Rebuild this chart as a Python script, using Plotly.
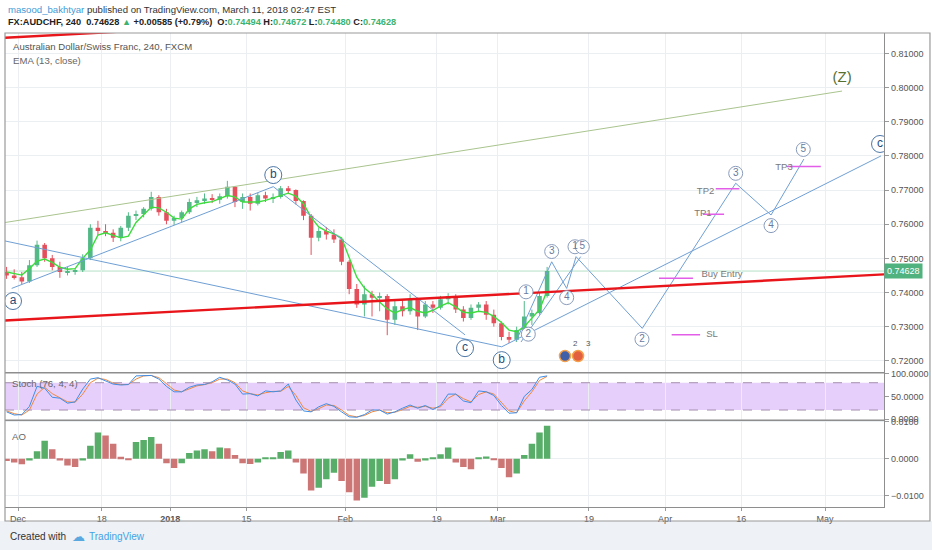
import pandas as pd
import plotly.graph_objects as go

# one bar per trading day (noon)
bar_dates = [d + pd.Timedelta(hours=12)
             for d in pd.bdate_range("2017-11-29", "2018-03-09")
             if d != pd.Timestamp("2017-12-25")]

open_ = [0.7460, 0.7450, 0.7445, 0.7432, 0.7480, 0.7540, 0.7500, 0.7475, 0.7460, 0.7462,
         0.7465, 0.7500, 0.7590, 0.7580, 0.7575, 0.7560, 0.7590, 0.7625, 0.7630, 0.7645,
         0.7680, 0.7635, 0.7610, 0.7618, 0.7635, 0.7665, 0.7670, 0.7675, 0.7672, 0.7682,
         0.7710, 0.7665, 0.7680, 0.7660, 0.7685, 0.7675, 0.7680, 0.7705, 0.7700, 0.7668,
         0.7625, 0.7560, 0.7580, 0.7570, 0.7555, 0.7490, 0.7410, 0.7365, 0.7395, 0.7385,
         0.7390, 0.7320, 0.7360, 0.7345, 0.7380, 0.7330, 0.7365, 0.7355, 0.7380, 0.7390,
         0.7350, 0.7325, 0.7355, 0.7365, 0.7335, 0.7310, 0.7270, 0.7262, 0.7290, 0.7330,
         0.7340, 0.7390]
high = [0.7475, 0.7468, 0.7460, 0.7495, 0.7552, 0.7545, 0.7510, 0.7490, 0.7475, 0.7470,
        0.7512, 0.7600, 0.7610, 0.7600, 0.7585, 0.7595, 0.7635, 0.7640, 0.7650, 0.7695,
        0.7685, 0.7645, 0.7625, 0.7640, 0.7675, 0.7680, 0.7690, 0.7688, 0.7690, 0.7727,
        0.7712, 0.7690, 0.7690, 0.7692, 0.7695, 0.7690, 0.7712, 0.7712, 0.7702, 0.7670,
        0.7630, 0.7590, 0.7592, 0.7585, 0.7560, 0.7495, 0.7425, 0.7420, 0.7405, 0.7400,
        0.7395, 0.7375, 0.7378, 0.7395, 0.7385, 0.7375, 0.7375, 0.7390, 0.7398, 0.7395,
        0.7360, 0.7365, 0.7372, 0.7375, 0.7350, 0.7315, 0.7285, 0.7300, 0.7375, 0.7350,
        0.7400, 0.7475]
low = [0.7440, 0.7438, 0.7425, 0.7428, 0.7475, 0.7490, 0.7465, 0.7443, 0.7450, 0.7452,
       0.7460, 0.7495, 0.7568, 0.7565, 0.7548, 0.7550, 0.7580, 0.7612, 0.7620, 0.7640,
       0.7625, 0.7600, 0.7598, 0.7605, 0.7630, 0.7650, 0.7660, 0.7662, 0.7660, 0.7675,
       0.7650, 0.7645, 0.7640, 0.7655, 0.7665, 0.7662, 0.7675, 0.7688, 0.7658, 0.7612,
       0.7510, 0.7550, 0.7555, 0.7545, 0.7480, 0.7395, 0.7355, 0.7330, 0.7330, 0.7345,
       0.7275, 0.7305, 0.7330, 0.7335, 0.7290, 0.7325, 0.7340, 0.7350, 0.7365, 0.7340,
       0.7315, 0.7320, 0.7345, 0.7320, 0.7300, 0.7260, 0.7252, 0.7255, 0.7285, 0.7305,
       0.7335, 0.7385]
close = [0.7450, 0.7445, 0.7432, 0.7480, 0.7540, 0.7500, 0.7475, 0.7460, 0.7462, 0.7465,
         0.7500, 0.7590, 0.7580, 0.7575, 0.7560, 0.7590, 0.7625, 0.7630, 0.7645, 0.7680,
         0.7635, 0.7610, 0.7618, 0.7635, 0.7665, 0.7670, 0.7675, 0.7672, 0.7682, 0.7710,
         0.7665, 0.7680, 0.7660, 0.7685, 0.7675, 0.7680, 0.7705, 0.7700, 0.7668, 0.7625,
         0.7560, 0.7580, 0.7570, 0.7555, 0.7490, 0.7410, 0.7365, 0.7395, 0.7385, 0.7390,
         0.7320, 0.7360, 0.7345, 0.7380, 0.7330, 0.7365, 0.7355, 0.7380, 0.7390, 0.7350,
         0.7325, 0.7355, 0.7365, 0.7335, 0.7310, 0.7270, 0.7262, 0.7290, 0.7330, 0.7340,
         0.7390, 0.7463]
ema13 = [0.7460, 0.7455, 0.7451, 0.7470, 0.7492, 0.7498, 0.7488, 0.7474, 0.7468, 0.7470,
         0.7500, 0.7525, 0.7568, 0.7575, 0.7568, 0.7560, 0.7565, 0.7605, 0.7628, 0.7650,
         0.7648, 0.7635, 0.7618, 0.7615, 0.7645, 0.7658, 0.7663, 0.7666, 0.7675, 0.7684,
         0.7680, 0.7665, 0.7665, 0.7665, 0.7670, 0.7677, 0.7686, 0.7691, 0.7682, 0.7660,
         0.7620, 0.7592, 0.7580, 0.7572, 0.7560, 0.7500, 0.7445, 0.7413, 0.7395, 0.7372,
         0.7352, 0.7340, 0.7350, 0.7356, 0.7345, 0.7340, 0.7348, 0.7360, 0.7370, 0.7358,
         0.7342, 0.7340, 0.7345, 0.7342, 0.7330, 0.7312, 0.7290, 0.7285, 0.7300, 0.7325,
         0.7350, 0.7405]
stoch_k = [16, 9, 10, 28, 72, 68, 48, 46, 35, 38, 66, 88, 91, 84, 77, 75, 76, 95, 96, 96,
           88, 72, 60, 60, 70, 75, 76, 82, 92, 86, 77, 55, 56, 51, 62, 60, 62, 77, 42, 18,
           16, 27, 34, 28, 16, 5, 4, 10, 20, 20, 11, 16, 24, 31, 24, 30, 21, 30, 55, 55,
           40, 36, 62, 60, 52, 30, 13, 14, 50, 65, 92, 95]
stoch_d = [18, 12, 9, 20, 55, 70, 56, 47, 38, 37, 55, 80, 90, 87, 79, 76, 76, 88, 95, 96,
           91, 78, 64, 60, 66, 73, 76, 80, 88, 88, 80, 62, 56, 53, 58, 61, 61, 72, 52, 25,
           17, 23, 31, 30, 20, 8, 5, 8, 16, 20, 14, 15, 21, 28, 26, 28, 24, 27, 46, 55,
           45, 38, 54, 60, 55, 36, 18, 14, 40, 60, 85, 94]
ao = [-0.0006, -0.0010, -0.0015, -0.0005, 0.0020, 0.0048, 0.0025, -0.0005, -0.0018, -0.0022,
      -0.0005, 0.0035, 0.0070, 0.0062, 0.0040, 0.0005, -0.0002, 0.0045, 0.0050, 0.0058,
      0.0040, -0.0012, -0.0025, -0.0012, 0.0015, 0.0022, 0.0025, 0.0020, 0.0030, 0.0028,
      0.0010, -0.0012, -0.0014, -0.0010, 0.0003, 0.0004, 0.0018, 0.0022, -0.0010, -0.0040,
      -0.0085, -0.0078, -0.0055, -0.0038, -0.0060, -0.0090, -0.0112, -0.0105, -0.0075, -0.0060,
      -0.0068, -0.0055, -0.0005, 0.0012, -0.0008, -0.0005, 0.0002, 0.0012, 0.0030, -0.0010,
      -0.0022, -0.0028, 0.0004, 0.0006, -0.0004, -0.0025, -0.0050, -0.0040, 0.0010, 0.0040,
      0.0070, 0.0088]
last_price = 0.74628

# drawings
channel_dates = ["2017-11-29 07:00", "2018-05-10 18:00"]
channel_prices = [0.7318, 0.7453]
channel_top_dates = ["2017-11-29 07:00", "2017-12-20 09:30"]
channel_top_prices = [0.8146, 0.8164]
z_line_dates = ["2017-11-29 07:00", "2018-05-03 05:45"]
z_line_prices = [0.7605, 0.7990]

abc_upper_dates = ["2017-11-30 04:05", "2018-01-18 12:43", "2018-02-22 17:11"]
abc_upper_prices = [0.7412, 0.7710, 0.7276]
abc_lower_dates = ["2017-11-29 07:00", "2018-03-01 12:52", "2018-05-10 08:38"]
abc_lower_prices = [0.7551, 0.7241, 0.7800]
wave_dates = ["2018-03-05 09:56", "2018-03-12 02:24", "2018-03-14 01:40", "2018-03-15 07:12",
              "2018-03-28 00:00", "2018-04-13 06:29", "2018-04-19 21:50", "2018-04-26 05:31"]
wave_prices = [0.7257, 0.7490, 0.7412, 0.7505, 0.7295, 0.7720, 0.7627, 0.7791]
wave_alt_dates = ["2018-03-06 01:40", "2018-03-15 21:50"]
wave_alt_prices = [0.7255, 0.7505]

letter_dates = ["2017-11-30 08:13", "2018-01-18 12:43", "2018-02-22 17:11", "2018-03-01 12:52",
                "2018-05-10 05:31"]
letter_prices = [0.7375, 0.7744, 0.7237, 0.7202, 0.7835]
letter_text = ["a", "b", "c", "b", "c"]
num_dates = ["2018-03-06 17:31", "2018-03-07 00:43", "2018-03-12 02:24", "2018-03-14 01:40",
             "2018-03-15 03:50", "2018-03-16 02:53", "2018-03-27 23:00", "2018-04-13 06:29",
             "2018-04-19 21:50", "2018-04-26 03:36"]
num_prices = [0.7402, 0.7278, 0.7520, 0.7385, 0.7534, 0.7534, 0.7263, 0.7749, 0.7596, 0.7819]
num_text = ["1", "2", "3", "4", "1", "5", "2", "3", "4", "5"]

target_names = ["Buy Entry", "SL", "TP1", "TP2", "TP3"]
target_prices = [0.7442, 0.7276, 0.7629, 0.7704, 0.7769]
target_start = ["2018-03-30 04:48", "2018-04-02 20:38", "2018-04-06 23:00", "2018-04-10 15:36",
                "2018-04-23 23:15"]
target_end = ["2018-04-05 15:50", "2018-04-06 14:10", "2018-04-11 17:45", "2018-04-13 18:00",
              "2018-04-30 10:48"]
target_label_dates = ["2018-04-11 11:17", "2018-04-10 03:50", "2018-04-06 23:00",
                      "2018-04-09 07:26", "2018-04-23 14:53"]
target_label_prices = [0.7451, 0.7276, 0.7630, 0.7695, 0.7766]

event_dates = ["2018-03-13 20:24", "2018-03-15 13:26"]
event_text = ["2", "3"]

tick_dates = ["2017-12-01", "2017-12-18", "2018-01-01", "2018-01-15", "2018-02-01",
              "2018-02-19", "2018-03-01", "2018-03-19", "2018-04-02", "2018-04-16", "2018-05-01"]
tick_text = ["Dec", "18", "<b>2018</b>", "15", "Feb", "19", "Mar", "19", "Apr", "16", "May"]
price_ticks = [0.72, 0.73, 0.74, 0.75, 0.76, 0.77, 0.78, 0.79, 0.80, 0.81]

UP, DOWN = "#53b987", "#e5505d"
DAY_MS = 86400000
GRID = "#eceff2"

fig = go.Figure()

# candles: bodies as bars, wicks as line segments
colors = [UP if c >= o else DOWN for o, c in zip(open_, close)]
fig.add_trace(go.Bar(x=bar_dates, y=[abs(c - o) for o, c in zip(open_, close)],
                     base=[min(o, c) for o, c in zip(open_, close)],
                     width=0.6 * DAY_MS, marker=dict(color=colors, line=dict(width=0)),
                     hoverinfo="skip"))
for col in (UP, DOWN):
    wx, wy = [], []
    for d, h, l, c in zip(bar_dates, high, low, colors):
        if c == col:
            wx += [d, d, None]
            wy += [l, h, None]
    fig.add_trace(go.Scatter(x=wx, y=wy, mode="lines", line=dict(color=col, width=1),
                             hoverinfo="skip"))

fig.add_trace(go.Scatter(x=bar_dates, y=ema13, mode="lines",
                         line=dict(color="#3ddc3d", width=1.4), hoverinfo="skip"))

# trend lines
fig.add_trace(go.Scatter(x=z_line_dates, y=z_line_prices, mode="lines",
                         line=dict(color="#a9c48e", width=1), hoverinfo="skip"))
fig.add_trace(go.Scatter(x=[z_line_dates[-1]], y=[z_line_prices[-1] + 0.0037], mode="text",
                         text=["(Z)"], textfont=dict(size=15, color="#56702f"), hoverinfo="skip"))
for xs, ys in ((abc_upper_dates, abc_upper_prices), (abc_lower_dates, abc_lower_prices),
               (wave_dates, wave_prices), (wave_alt_dates, wave_alt_prices)):
    fig.add_trace(go.Scatter(x=xs, y=ys, mode="lines", line=dict(color="#6f9fd4", width=1),
                             hoverinfo="skip"))
for xs, ys in ((channel_dates, channel_prices), (channel_top_dates, channel_top_prices)):
    fig.add_trace(go.Scatter(x=xs, y=ys, mode="lines", line=dict(color="#e8161b", width=2.4),
                             hoverinfo="skip"))

# targets
for s, e, p in zip(target_start, target_end, target_prices):
    fig.add_trace(go.Scatter(x=[s, e], y=[p, p], mode="lines",
                             line=dict(color="#e35ee8", width=1.5), hoverinfo="skip"))
fig.add_trace(go.Scatter(x=target_label_dates, y=target_label_prices, mode="text",
                         text=target_names, textfont=dict(size=9.5, color="#7a7a7a"),
                         hoverinfo="skip"))

# wave labels
fig.add_trace(go.Scatter(x=num_dates, y=num_prices, mode="markers+text", text=num_text,
                         textposition="middle center",
                         marker=dict(size=14, color="white", line=dict(color="#8a9cbc", width=1)),
                         textfont=dict(size=10, color="#687c9e"), hoverinfo="skip"))
fig.add_trace(go.Scatter(x=letter_dates, y=letter_prices, mode="markers+text", text=letter_text,
                         textposition="middle center",
                         marker=dict(size=17, color="white", line=dict(color="#4d77a6", width=1)),
                         textfont=dict(size=12, color="#1f4b7a"), hoverinfo="skip"))
fig.add_trace(go.Scatter(x=event_dates, y=[0.7214, 0.7214], mode="markers+text", text=event_text,
                         textposition="top right",
                         marker=dict(size=11, color=["#3f5fa8", "#e2603f"],
                                     line=dict(color="#f5a04a", width=1.5)),
                         textfont=dict(size=8, color="#555"), hoverinfo="skip"))

# stochastic
fig.add_trace(go.Scatter(x=bar_dates, y=stoch_d, yaxis="y2", mode="lines",
                         line=dict(color="#f0883e", width=1), hoverinfo="skip"))
fig.add_trace(go.Scatter(x=bar_dates, y=stoch_k, yaxis="y2", mode="lines",
                         line=dict(color="#3d8ee8", width=1), hoverinfo="skip"))

# awesome oscillator
ao_colors = ["#cd7676"] + ["#58ae68" if b >= a else "#cd7676" for a, b in zip(ao[:-1], ao[1:])]
fig.add_trace(go.Bar(x=bar_dates, y=ao, yaxis="y3", width=0.85 * DAY_MS,
                     marker=dict(color=ao_colors, line=dict(width=0)), hoverinfo="skip"))

axis_font = dict(family="Liberation Sans, Arial, sans-serif", size=9, color="#555")
yaxis_common = dict(side="right", anchor="x", showline=True, linecolor="#8e8e8e", linewidth=1.2,
                    ticks="outside", ticklen=4, tickcolor="#9a9a9a", tickfont=axis_font,
                    zeroline=False, fixedrange=True)

fig.update_layout(
    width=932, height=550,
    margin=dict(l=5, r=48, t=33, b=43),
    paper_bgcolor="white", plot_bgcolor="white",
    showlegend=False, barmode="overlay",
    font=dict(family="Liberation Sans, Arial, sans-serif", size=10, color="#333"),
    xaxis=dict(type="date", range=["2017-11-29 07:00", "2018-05-10 18:00"],
               rangebreaks=[dict(bounds=["sat", "mon"]), dict(values=["2017-12-25"])],
               tickvals=tick_dates, ticktext=tick_text, tickangle=0, anchor="y3",
               showgrid=True, gridcolor=GRID, ticks="outside", ticklen=3, tickcolor="#9a9a9a",
               showline=True, linecolor="#8e8e8e", linewidth=1.2, tickfont=axis_font,
               zeroline=False),
    yaxis=dict(domain=[0.2833, 1], range=[0.71651, 0.8160], tickvals=price_ticks,
               tickformat=".5f", showgrid=True, gridcolor=GRID, **yaxis_common),
    yaxis2=dict(domain=[0.1829, 0.2833], range=[-2.6, 102], tickvals=[0, 50, 100],
                tickformat=".4f", showgrid=False, **yaxis_common),
    yaxis3=dict(domain=[0, 0.1829], range=[-0.01295, 0.01029], tickvals=[-0.01, 0, 0.01],
                tickformat=".4f", showgrid=True, gridcolor=GRID, **yaxis_common),
)

shapes = [
    # footer background
    dict(type="rect", xref="paper", yref="paper", x0=-0.01, x1=1.06, y0=-0.095, y1=-0.0295,
         fillcolor="#eef1f5", line=dict(width=0), layer="below"),
    # stoch band
    dict(type="rect", xref="paper", yref="y2", x0=0, x1=1, y0=20, y1=80,
         fillcolor="#e6cffb", line=dict(width=0), layer="below"),
    dict(type="line", xref="paper", yref="y2", x0=0, x1=1, y0=80, y1=80,
         line=dict(color="#a58fae", width=1, dash="dash")),
    dict(type="line", xref="paper", yref="y2", x0=0, x1=1, y0=20, y1=20,
         line=dict(color="#a58fae", width=1, dash="dash")),
    # last price line
    dict(type="line", xref="paper", yref="y", x0=0, x1=1, y0=last_price, y1=last_price,
         line=dict(color="#b4e0c6", width=1), layer="below"),
    # pane separators and frame
    dict(type="line", xref="paper", yref="paper", x0=0, x1=1, y0=0.2833, y1=0.2833,
         line=dict(color="#8e8e8e", width=1.5)),
    dict(type="line", xref="paper", yref="paper", x0=0, x1=1, y0=0.1829, y1=0.1829,
         line=dict(color="#8e8e8e", width=1.5)),
    dict(type="rect", xref="paper", yref="paper", x0=0, x1=1.0523, y0=-0.0295, y1=1.0,
         line=dict(color="#9a9a9a", width=1.2)),
]
fig.update_layout(shapes=shapes)

green = "#3cb371"
header1 = ('<span style="color:#3f9ad8">masood_bakhtyar</span> published on TradingView.com, '
           'March 11, 2018 02:47 EST')
header2 = ('<b>FX:AUDCHF, 240</b>  <b>0.74628</b> <span style="color:%s">▲</span> '
           '<b>+0.00585 (+0.79%%)</b>  <b>O:</b><b style="color:%s">0.74494</b> '
           '<b>H:</b><b style="color:%s">0.74672</b> <b>L:</b><b style="color:%s">0.74480</b> '
           '<b>C:</b><b style="color:%s">0.74628</b>') % (green, green, green, green, green)

notes = [
    dict(text=header1, x=0.0011, y=1.0506, font=dict(size=9.6, color="#333")),
    dict(text=header2, x=0.0011, y=1.0222, font=dict(size=9.2, color="#222")),
    dict(text="Australian Dollar/Swiss Franc, 240, FXCM", x=0.0068, y=0.9705,
         font=dict(size=9.6, color="#555")),
    dict(text="EMA (13, close)", x=0.0068, y=0.943, font=dict(size=9.6, color="#666")),
    dict(text="Stoch (76, 4, 4)", x=0.0057, y=0.2616, font=dict(size=9.6, color="#666")),
    dict(text="AO", x=0.0057, y=0.1477, font=dict(size=9.6, color="#666")),
    dict(text="Created with", x=0.0034, y=-0.0612, font=dict(size=10, color="#333")),
    dict(text="☁", x=0.074, y=-0.0612, font=dict(size=13, color="#5aa8e0")),
    dict(text="TradingView", x=0.0933, y=-0.0612, font=dict(size=10, color="#45a3e6")),
]
for n in notes:
    fig.add_annotation(xref="paper", yref="paper", xanchor="left", yanchor="middle",
                       showarrow=False, **n)
fig.add_annotation(xref="paper", yref="y", x=1.0, y=last_price, xanchor="left",
                   text="0.74628", showarrow=False, bgcolor="#4fb27f", borderpad=2,
                   font=dict(family="Liberation Sans, Arial, sans-serif", size=9, color="white"))

# drop the browser's default page margin so the figure sits at the window corner
fig.write_html("out.html", config={"displayModeBar": False},
               post_script="document.body.style.margin='0';")
